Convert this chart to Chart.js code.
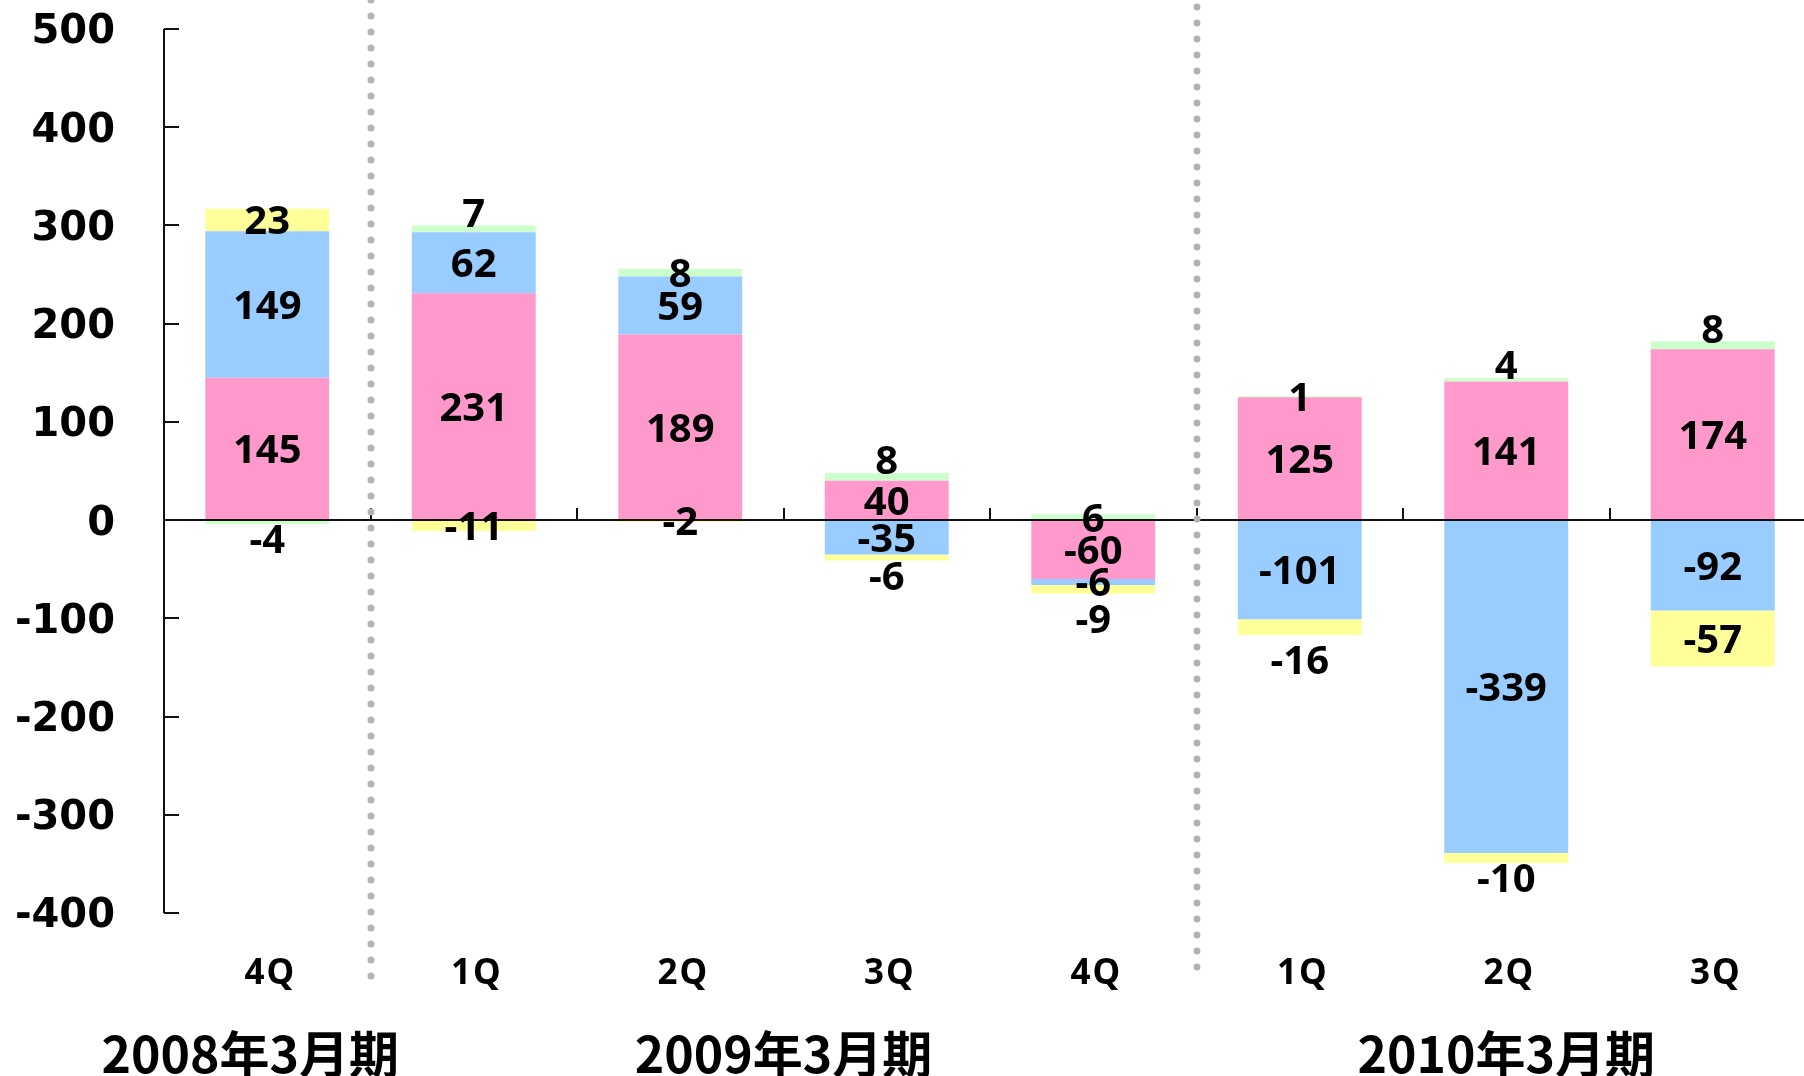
<!DOCTYPE html>
<html>
<head>
<meta charset="utf-8">
<script src="https://cdn.jsdelivr.net/npm/chart.js@4/dist/chart.umd.min.js"></script>
<style>
  html, body { margin: 0; padding: 0; background: #fff; overflow: hidden; }
  #wrap { width: 1816px; height: 1076px; position: relative; }
</style>
</head>
<body>
<div id="wrap"><canvas id="chart"></canvas></div>
<script>
// 分類ラベル
const quarters = ['4Q', '1Q', '2Q', '3Q', '4Q', '1Q', '2Q', '3Q'];
const periods = ['2008年3月期', '2009年3月期', '2010年3月期'];
const periodFirst = [0, 1, 5];
const periodLast = [0, 4, 7];

// 系列データ
const pinkValues = [145, 231, 189, 40, -60, 125, 141, 174];
const blueValues = [149, 62, 59, -35, -6, -101, -339, -92];
const yellowValues = [23, -11, -2, -6, -9, -16, -10, -57];
const greenValues = [-4, 7, 8, 8, 6, 1, 4, 8];

// 目盛
const yMin = -400;
const yMax = 500;
const yStep = 100;

// ラベルの置き場所 (c: 中央, up: 上, down: 下, far: さらに下)
const pinkPlace = ['c', 'c', 'c', 'c', 'c', 'c', 'c', 'c'];
const bluePlace = ['c', 'c', 'c', 'c', 'c', 'c', 'c', 'c'];
const yellowPlace = ['c', 'c', 'c', 'down', 'far', 'far', 'down', 'c'];
const greenPlace = ['down', 'up', 'c', 'up', 'c', 'c', 'up', 'up'];

const places = [pinkPlace, bluePlace, yellowPlace, greenPlace];

// 軸・区切り線・ラベル描画
const overlay = {
  id: 'overlay',
  afterDatasetsDraw(chart) {
    const ctx = chart.ctx;
    const x = chart.scales.x;
    const y = chart.scales.y;
    const y0 = y.getPixelForValue(0);
    const ax = x.left;

    ctx.save();
    ctx.strokeStyle = '#111';
    ctx.lineWidth = 2;
    ctx.beginPath();
    // 縦軸
    ctx.moveTo(ax, y.getPixelForValue(yMax));
    ctx.lineTo(ax, y.getPixelForValue(yMin));
    // 縦軸の目盛 (内向き)
    for (let v = yMin; v <= yMax; v += yStep) {
      const py = Math.round(y.getPixelForValue(v));
      ctx.moveTo(ax, py);
      ctx.lineTo(ax + 15, py);
    }
    // ゼロ線
    ctx.moveTo(ax, y0);
    ctx.lineTo(chart.width, y0);
    // 横軸の目盛
    for (let k = 1; k <= quarters.length; k++) {
      const bx = Math.round(x.getPixelForValue(k - 0.5));
      ctx.moveTo(bx, y0);
      ctx.lineTo(bx, y0 - 12);
    }
    ctx.stroke();

    // 期の区切り (点線)
    ctx.strokeStyle = '#b3b3b3';
    ctx.lineWidth = 7;
    ctx.lineCap = 'round';
    ctx.setLineDash([0, 16]);
    const d1 = Math.round(x.getPixelForValue(0.5));
    const d2 = Math.round(x.getPixelForValue(4.5));
    ctx.beginPath();
    ctx.moveTo(d1, 0);
    ctx.lineTo(d1, 980);
    ctx.moveTo(d2, 7);
    ctx.lineTo(d2, 972);
    ctx.stroke();
    ctx.restore();
  },
  afterDraw(chart) {
    const ctx = chart.ctx;
    const x = chart.scales.x;
    ctx.save();
    ctx.fillStyle = '#000';
    ctx.textAlign = 'center';
    ctx.textBaseline = 'middle';

    // データラベル
    ctx.font = 'bold 40px "Noto Sans"';
    chart.data.datasets.forEach((ds, di) => {
      const meta = chart.getDatasetMeta(di);
      meta.data.forEach((bar, i) => {
        const top = Math.min(bar.y, bar.base);
        const bottom = Math.max(bar.y, bar.base);
        let ly = (top + bottom) / 2;
        if (places[di][i] === 'up') ly = top - 13;
        if (places[di][i] === 'down') ly = bottom + 15;
        if (places[di][i] === 'far') ly = bottom + 25;
        ctx.fillText(String(ds.data[i]), bar.x, ly + 3);
      });
    });

    // 四半期ラベル
    ctx.font = 'bold 35px "Noto Sans"';
    ctx.letterSpacing = '2px';
    quarters.forEach((q, i) => {
      ctx.fillText(q, x.getPixelForValue(i) + 3, 974);
    });
    ctx.letterSpacing = '0px';

    // 期ラベル
    ctx.font = 'bold 50px "Noto Sans CJK JP"';
    periods.forEach((p, i) => {
      const cx = (x.getPixelForValue(periodFirst[i]) + x.getPixelForValue(periodLast[i])) / 2;
      ctx.fillText(p, cx - (i === 0 ? 17 : 0), 1054);
    });
    ctx.restore();
  }
};

const ctx = document.getElementById('chart').getContext('2d');

new Chart(ctx, {
  type: 'bar',
  data: {
    labels: quarters,
    datasets: [
      { label: 'pink', data: pinkValues, backgroundColor: '#ff99cc' },
      { label: 'blue', data: blueValues, backgroundColor: '#99ccff' },
      { label: 'yellow', data: yellowValues, backgroundColor: '#ffff99' },
      { label: 'green', data: greenValues, backgroundColor: '#ccffcc' }
    ]
  },
  options: {
    responsive: true,
    maintainAspectRatio: false,
    animation: false,
    layout: { padding: { top: 29, bottom: 163, left: 0, right: 0 } },
    datasets: {
      bar: { categoryPercentage: 1, barPercentage: 0.6, borderWidth: 0 }
    },
    plugins: {
      legend: { display: false },
      tooltip: { enabled: false }
    },
    scales: {
      x: {
        stacked: true,
        display: false
      },
      y: {
        stacked: true,
        min: yMin,
        max: yMax,
        afterFit: s => {
          s.width = 164;
          s.paddingTop = 0;
          s.paddingBottom = 0;
        },
        grid: { display: false, drawTicks: false },
        border: { display: false },
        ticks: {
          stepSize: yStep,
          padding: 49,
          labelOffset: 4,
          color: '#000',
          font: { family: '"DejaVu Sans", sans-serif', size: 40, weight: 'bold' }
        }
      }
    }
  },
  plugins: [overlay]
});
</script>
</body>
</html>
